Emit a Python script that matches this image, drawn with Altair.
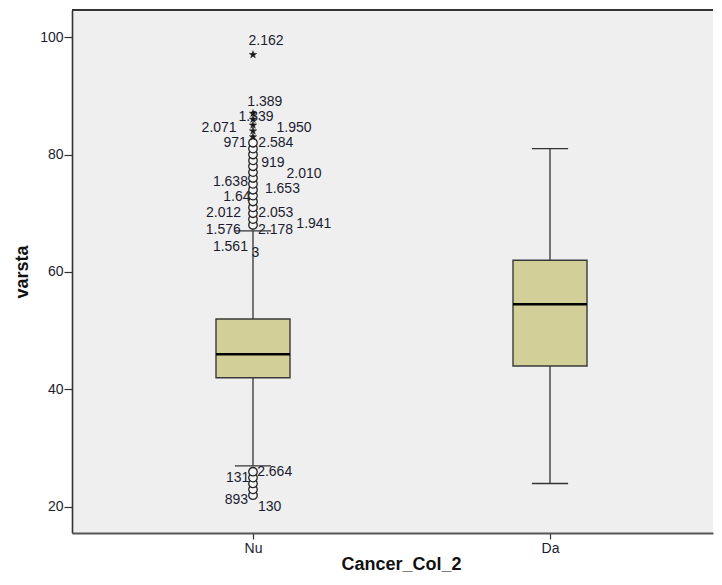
import altair as alt
import pandas as pd

# ---- data ----
categories = ["Nu", "Da"]
q1 = [42, 44]
medians = [46, 54.5]
q3 = [52, 62]
whisker_low = [27, 24]
whisker_high = [67, 81]

# outliers (all in group "Nu")
outlier_values = [68, 69, 70, 71, 72, 73, 74, 75, 76, 77, 78, 79, 80, 81, 82,
                  22, 23, 24, 25, 26]
extreme_values = [83, 84, 85, 86, 87, 97]

# case labels next to the outliers: text, vertical value, horizontal shift
# from the "Nu" centre (in category units)
label_text = ["2.162", "1.389", "1.339", "2.071", "1.950", "971", "2.584",
              "919", "2.010", "1.638", "1.653", "1.64", "2.012", "2.053",
              "1.941", "1.576", "2.178", "1.561", "3", "131", "2.664",
              "893", "130"]
label_value = [99.3, 89.0, 86.4, 84.5, 84.5, 81.9, 81.9,
               78.5, 76.6, 75.4, 74.2, 72.7, 70.1, 70.1,
               68.2, 67.1, 67.1, 64.3, 63.3, 24.9, 26.0,
               21.2, 20.05]
label_shift = [0.044, 0.040, 0.010, -0.114, 0.138, -0.060, 0.077,
               0.067, 0.172, -0.076, 0.099, -0.054, -0.099, 0.077,
               0.205, -0.100, 0.076, -0.076, 0.008, -0.052, 0.073,
               -0.056, 0.056]

# ---- tables ----
box_df = pd.DataFrame({
    "cat": categories,
    "pos": [i + 1 for i in range(len(categories))],
    "q1": q1, "median": medians, "q3": q3,
    "lo": whisker_low, "hi": whisker_high,
})
out_df = pd.DataFrame({"pos": 1, "v": outlier_values})
ext_df = pd.DataFrame({"pos": 1, "v": extreme_values})
lab_df = pd.DataFrame({"t": label_text, "v": label_value, "shift": label_shift})

W, H = 641, 523
BOX_HALF = 0.1246
CAP_HALF = 0.061
FONT = "Liberation Sans"
TXT = "#1c1c30"
STAR = ("M0,-1L0.235,-0.324L0.951,-0.309L0.380,0.124L0.588,0.809L0,0.4"
        "L-0.588,0.809L-0.380,0.124L-0.951,-0.309L-0.235,-0.324Z")

x_scale = alt.Scale(domain=[0.3906, 2.5488], nice=False, zero=False)
y_scale = alt.Scale(domain=[15.57, 104.6], nice=False, zero=False)

label_expr = "[" + ",".join("'" + c + "'" for c in categories) + "][datum.value - 1]"

x_axis = alt.Axis(orient="bottom", values=[1, 2], labelExpr=label_expr,
                  title="Cancer_Col_2",
                  grid=False, tickSize=6, tickColor="#333", tickWidth=1.2,
                  domainColor="#555", domainWidth=2.2,
                  labelFont=FONT, labelFontSize=14, labelColor=TXT, labelPadding=2,
                  titleFont=FONT, titleFontSize=18, titleFontWeight="bold",
                  titleColor="#111", titlePadding=0, titleX=329)
y_axis = alt.Axis(orient="left", values=[20, 40, 60, 80, 100], title="varsta",
                  grid=False, tickSize=8, tickColor="#333", tickWidth=1.2,
                  domainColor="#333", domainWidth=1.6,
                  labelFont=FONT, labelFontSize=14, labelColor=TXT, labelPadding=1,
                  titleFont=FONT, titleFontSize=18, titleFontWeight="bold",
                  titleColor="#111", titlePadding=8)

base = alt.Chart(box_df)

whisk_up = base.mark_rule(color="#333", strokeWidth=1.3).encode(
    x=alt.X("pos:Q", scale=x_scale, axis=x_axis),
    y=alt.Y("q3:Q", scale=y_scale, axis=y_axis),
    y2="hi:Q",
)
whisk_dn = base.mark_rule(color="#333", strokeWidth=1.3).encode(
    x="pos:Q", y="lo:Q", y2="q1:Q")

caps_hi = base.transform_calculate(
    a=f"datum.pos - {CAP_HALF}", b=f"datum.pos + {CAP_HALF}"
).mark_rule(color="#333", strokeWidth=1.3).encode(x="a:Q", x2="b:Q", y="hi:Q")
caps_lo = base.transform_calculate(
    a=f"datum.pos - {CAP_HALF}", b=f"datum.pos + {CAP_HALF}"
).mark_rule(color="#333", strokeWidth=1.3).encode(x="a:Q", x2="b:Q", y="lo:Q")

boxes = base.transform_calculate(
    a=f"datum.pos - {BOX_HALF}", b=f"datum.pos + {BOX_HALF}"
).mark_rect(fill="#d3cf98", stroke="#3a3a3a", strokeWidth=1.4).encode(
    x="a:Q", x2="b:Q", y="q1:Q", y2="q3:Q")

med = base.transform_calculate(
    a=f"datum.pos - {BOX_HALF}", b=f"datum.pos + {BOX_HALF}"
).mark_rule(color="#000", strokeWidth=2.6).encode(x="a:Q", x2="b:Q", y="median:Q")

labels = alt.Chart(lab_df).transform_calculate(
    lx="1 + datum.shift"
).mark_text(font=FONT, fontSize=14, color=TXT, align="center",
            baseline="middle").encode(x="lx:Q", y="v:Q", text="t:N")

circles = alt.Chart(out_df).mark_point(
    shape="circle", size=72, filled=True, fill="#f6f6f6", fillOpacity=1,
    stroke="#222", strokeWidth=1.3, opacity=1
).encode(x="pos:Q", y="v:Q")

stars = alt.Chart(ext_df).mark_point(
    shape=STAR, size=64, filled=True, fill="#1a1a1a", fillOpacity=1,
    stroke="#1a1a1a", strokeWidth=0.4, opacity=1
).encode(x="pos:Q", y="v:Q")

top_line = alt.Chart(box_df).mark_rule(color="#333", strokeWidth=1.8).encode(
    x=alt.value(0), x2=alt.value(W), y=alt.value(0))

chart = alt.layer(
    whisk_up, whisk_dn, caps_hi, caps_lo, boxes, med, labels, circles, stars, top_line
).properties(
    width=W, height=H,
    padding={"left": 5, "top": 1, "right": 0, "bottom": 0},
    background="white",
).configure_view(fill="#efefef", stroke=None)

chart.save("out.html", embed_options={"renderer": "svg", "actions": False})
